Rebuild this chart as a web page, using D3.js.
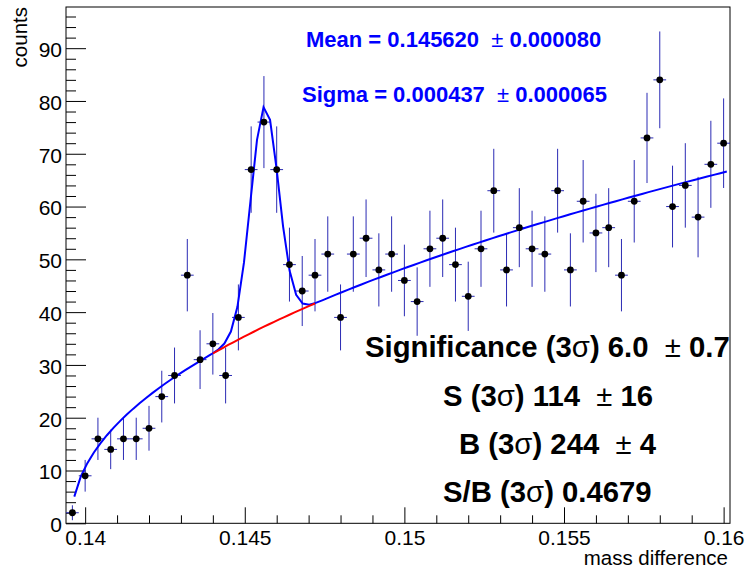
<!DOCTYPE html>
<html>
<head>
<meta charset="utf-8">
<script src="https://cdn.jsdelivr.net/npm/d3@7"></script>
<style>
  html, body { margin: 0; padding: 0; background: #fff; }
  svg { display: block; font-family: "Liberation Sans", Arial, Helvetica, sans-serif; }
</style>
</head>
<body>
<svg id="chart" width="746" height="576"></svg>
<script>
// Histogram of the mass difference: 52 bins of width 0.0004 starting at 0.1394
const binLow = 0.1394;
const binWidth = 0.0004;
const counts = [
  2, 9, 16, 14, 16, 16, 18, 24, 28, 47,
  31, 34, 28, 39, 67, 76, 67, 49, 44, 47,
  51, 39, 51, 54, 48, 51, 46, 42, 52, 54,
  49, 43, 52, 63, 48, 56, 52, 51, 63, 48,
  61, 55, 56, 47, 61, 73, 84, 60, 64, 58,
  68, 72
];

// Axis ticks
const xMajorTicks = [0.14, 0.145, 0.15, 0.155, 0.16];
const xTickLabels = ["0.14", "0.145", "0.15", "0.155", "0.16"];
const xMinorTicks = [0.141, 0.142, 0.143, 0.144, 0.146, 0.147, 0.148, 0.149,
                     0.151, 0.152, 0.153, 0.154, 0.156, 0.157, 0.158, 0.159];
const yMajorTicks = [0, 10, 20, 30, 40, 50, 60, 70, 80, 90];
const yMinorTicks = [2, 4, 6, 8, 12, 14, 16, 18, 22, 24, 26, 28, 32, 34, 36, 38,
                     42, 44, 46, 48, 52, 54, 56, 58, 62, 64, 66, 68, 72, 74, 76, 78,
                     82, 84, 86, 88, 92, 94, 96];
const xDomain = [0.1394, 0.1602];
const yDomain = [0, 97.8];

// Fit result: Gaussian signal on a threshold power-law background
const fitMean = 0.145620;
const fitMeanErr = 0.000080;
const fitSigma = 0.000437;
const fitSigmaErr = 0.000065;
const signal3s = 114, signal3sErr = 16;
const bkg3s = 244, bkg3sErr = 4;
const significance = 6.0, significanceErr = 0.7;
const sOverB = 0.4679;
const threshold = 0.13957;
const bkgPower = 0.475;
const fitRange = [0.13966, 0.1601];
const bkgDrawRange = [0.1440, 0.1472];
const fitPoints = 100;

// Plot frame
const frame = { left: 66, top: 7, right: 730, bottom: 523.3 };

const svg = d3.select("#chart");
const x = d3.scaleLinear().domain(xDomain).range([frame.left, frame.right]);
const y = d3.scaleLinear().domain(yDomain).range([frame.bottom, frame.top]);

// Normalise fit components to the yields quoted in the ±3σ window
const lo3 = fitMean - 3 * fitSigma, hi3 = fitMean + 3 * fitSigma;
const bkgShapeIntegral = (Math.pow(hi3 - threshold, bkgPower + 1) -
                          Math.pow(lo3 - threshold, bkgPower + 1)) / (bkgPower + 1);
const bkgNorm = bkg3s * binWidth / bkgShapeIntegral;
const sigAmp = signal3s * binWidth / (fitSigma * Math.sqrt(2 * Math.PI) * 0.9973);

const bkgFn = m => m > threshold ? bkgNorm * Math.pow(m - threshold, bkgPower) : 0;
const sigFn = m => sigAmp * Math.exp(-0.5 * Math.pow((m - fitMean) / fitSigma, 2));
const totalFn = m => bkgFn(m) + sigFn(m);

function sampleFn(fn, range, n) {
  const pts = [];
  for (let i = 0; i <= n; i++) {
    const m = range[0] + (range[1] - range[0]) * i / n;
    pts.push([m, fn(m)]);
  }
  return pts;
}

// Axes (ticks point into the frame)
const xAxisMajor = d3.axisBottom(x).tickValues(xMajorTicks)
  .tickFormat((d, i) => xTickLabels[i]).tickSize(-16).tickPadding(7);
const xAxisMinor = d3.axisBottom(x).tickValues(xMinorTicks).tickFormat("").tickSize(-8);
const yAxisMajor = d3.axisLeft(y).tickValues(yMajorTicks).tickFormat(d3.format("d"))
  .tickSize(-20).tickPadding(4);
const yAxisMinor = d3.axisLeft(y).tickValues(yMinorTicks).tickFormat("").tickSize(-10);

function styleAxis(g) {
  g.select(".domain").remove();
  g.selectAll("line").attr("stroke", "#000").attr("stroke-width", 1);
  g.selectAll("text").attr("fill", "#000").attr("font-size", 21)
    .attr("font-family", "Liberation Sans, Arial, Helvetica, sans-serif");
}

svg.append("g").attr("transform", `translate(0,${frame.bottom})`).call(xAxisMinor).call(styleAxis);
svg.append("g").attr("transform", `translate(0,${frame.bottom})`).call(xAxisMajor).call(styleAxis);
svg.append("g").attr("transform", `translate(${frame.left},0)`).call(yAxisMinor).call(styleAxis);
const yg = svg.append("g").attr("transform", `translate(${frame.left},0)`).call(yAxisMajor).call(styleAxis);
yg.selectAll("text").attr("dy", "0.4em");

// Frame box
svg.append("rect")
  .attr("x", frame.left).attr("y", frame.top)
  .attr("width", frame.right - frame.left).attr("height", frame.bottom - frame.top)
  .attr("fill", "none").attr("stroke", "#000").attr("stroke-width", 1);

// Histogram bins with Poisson errors
const bins = counts.map((c, i) => ({
  lo: binLow + i * binWidth,
  mid: binLow + (i + 0.5) * binWidth,
  hi: binLow + (i + 1) * binWidth,
  n: c,
  err: Math.sqrt(c)
}));

const errColor = "#2b2bb4";
const eb = svg.append("g").attr("class", "errors");
eb.selectAll("line.v").data(bins).join("line").attr("class", "v")
  .attr("x1", d => x(d.mid)).attr("x2", d => x(d.mid))
  .attr("y1", d => y(d.n - d.err)).attr("y2", d => y(Math.min(d.n + d.err, yDomain[1])))
  .attr("stroke", errColor).attr("stroke-width", 1);
eb.selectAll("line.h").data(bins).join("line").attr("class", "h")
  .attr("x1", d => x(d.lo)).attr("x2", d => x(d.hi))
  .attr("y1", d => y(d.n)).attr("y2", d => y(d.n))
  .attr("stroke", errColor).attr("stroke-width", 1);

// Fit curves
const line = d3.line().x(d => x(d[0])).y(d => y(d[1]));
svg.append("path")
  .datum(sampleFn(totalFn, fitRange, fitPoints))
  .attr("d", line).attr("fill", "none").attr("stroke", "#0000ff").attr("stroke-width", 2);
svg.append("path")
  .datum(sampleFn(bkgFn, bkgDrawRange, 20))
  .attr("d", line).attr("fill", "none").attr("stroke", "#ff0000").attr("stroke-width", 2);

// Markers
svg.append("g").selectAll("circle").data(bins).join("circle")
  .attr("cx", d => x(d.mid)).attr("cy", d => y(d.n)).attr("r", 3.4).attr("fill", "#000");

// Axis titles
svg.append("text").attr("x", 728).attr("y", 565).attr("text-anchor", "end")
  .attr("font-size", 20.5).attr("fill", "#000").text("mass difference");
svg.append("text").attr("transform", "translate(27,7) rotate(-90)").attr("text-anchor", "end")
  .attr("font-size", 20.5).attr("fill", "#000").text("counts");

// Annotation helper: bold text with thinner symbol glyphs
function richText(xp, yp, parts, size, color) {
  const t = svg.append("text").attr("x", xp).attr("y", yp)
    .attr("font-size", size).attr("font-weight", "bold").attr("fill", color)
    .attr("xml:space", "preserve");
  parts.forEach(p => {
    t.append("tspan").attr("font-weight", p.sym ? "normal" : "bold").text(p.s);
  });
  return t;
}

const fmt6 = d3.format(".6f");
richText(306, 47, [
  { s: "Mean = " + fmt6(fitMean) + "  " }, { s: "±", sym: true }, { s: " " + fmt6(fitMeanErr) }
], 22, "#0000ff");
richText(302, 102, [
  { s: "Sigma = " + fmt6(fitSigma) + "  " }, { s: "±", sym: true }, { s: " " + fmt6(fitSigmaErr) }
], 22, "#0000ff");

richText(365, 357, [
  { s: "Significance (3" }, { s: "σ", sym: true }, { s: ") " + significance.toFixed(1) + "  " },
  { s: "±", sym: true }, { s: " " + significanceErr.toFixed(1) }
], 29.3, "#000");
richText(443, 406, [
  { s: "S (3" }, { s: "σ", sym: true }, { s: ") " + signal3s + "  " },
  { s: "±", sym: true }, { s: " " + signal3sErr }
], 29.3, "#000");
richText(459, 454, [
  { s: "B (3" }, { s: "σ", sym: true }, { s: ") " + bkg3s + "  " },
  { s: "±", sym: true }, { s: " " + bkg3sErr }
], 29.3, "#000");
richText(443, 502, [
  { s: "S/B (3" }, { s: "σ", sym: true }, { s: ") " + sOverB.toFixed(4) }
], 29.3, "#000");
</script>
</body>
</html>
